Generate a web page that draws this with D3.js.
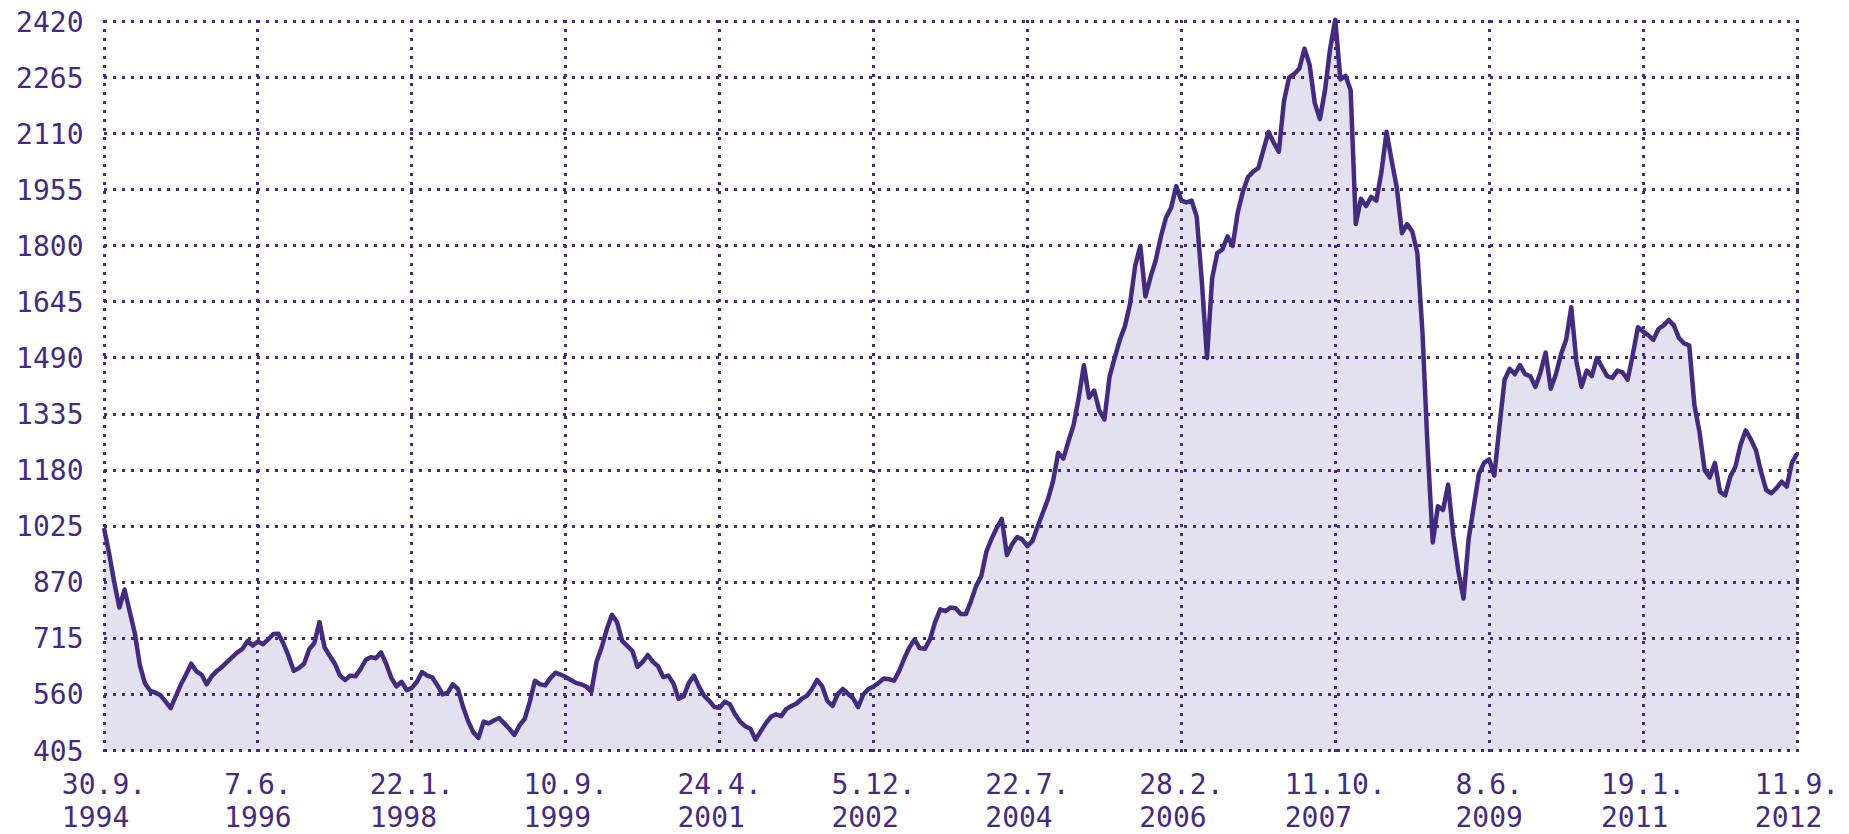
<!DOCTYPE html>
<html>
<head>
<meta charset="utf-8">
<script src="https://cdn.jsdelivr.net/npm/d3@7"></script>
<style>
    html, body { margin: 0; padding: 0; background: #fff; }
    svg text { font-family: "DejaVu Sans Mono", monospace; font-size: 28px; fill: #452b80; }
</style>
</head>
<body>
<svg id="chart"></svg>
<script>

// x axis labels, evenly spread over the trading days
var dayLabels = ["30.9.", "7.6.", "22.1.", "10.9.", "24.4.", "5.12.", "22.7.", "28.2.", "11.10.", "8.6.", "19.1.", "11.9."];
var yearLabels = ["1994", "1996", "1998", "1999", "2001", "2002", "2004", "2006", "2007", "2009", "2011", "2012"];

var yTicks = [405, 560, 715, 870, 1025, 1180, 1335, 1490, 1645, 1800, 1955, 2110, 2265, 2420];

// index level (evenly spaced samples)
var values = [
    1020, 950, 870, 800, 850, 790, 730, 640, 590, 570,
    565, 558, 540, 522, 555, 588, 615, 645, 624, 615,
    588, 610, 625, 636, 650, 663, 676, 686, 708, 695,
    706, 699, 712, 727, 728, 700, 665, 625, 633, 645,
    685, 702, 760, 690, 667, 645, 612, 600, 612, 610,
    630, 655, 663, 660, 676, 645, 606, 582, 595, 572,
    578, 595, 622, 612, 607, 585, 560, 565, 588, 575,
    525, 485, 455, 440, 485, 480, 488, 495, 480, 465,
    448, 475, 492, 540, 598, 588, 585, 605, 620, 615,
    608, 600, 592, 588, 582, 568, 650, 690, 740, 780,
    760, 708, 694, 680, 636, 650, 669, 650, 638, 608,
    612, 590, 548, 555, 592, 612, 581, 556, 542, 525,
    523, 540, 533, 505, 485, 472, 465, 435, 458, 480,
    498, 505, 500, 520, 528, 535, 548, 556, 575, 600,
    582, 542, 528, 560, 575, 562, 550, 525, 560, 575,
    582, 592, 604, 602, 598, 625, 660, 690, 712, 688,
    686, 712, 760, 795, 790, 800, 798, 782, 782, 818,
    860, 887, 955, 990, 1020, 1045, 945, 975, 995, 988,
    970, 985, 1025, 1062, 1100, 1150, 1228, 1212, 1260, 1305,
    1380, 1470, 1380, 1400, 1345, 1320, 1438, 1490, 1540, 1578,
    1640, 1745, 1800, 1660, 1714, 1760, 1825, 1878, 1905, 1965,
    1925, 1920, 1925, 1880, 1700, 1490, 1710, 1780, 1790, 1826,
    1800, 1893, 1950, 1990, 2005, 2015, 2065, 2115, 2085, 2060,
    2200, 2265, 2275, 2290, 2345, 2300, 2195, 2150, 2230, 2345,
    2425, 2260, 2270, 2230, 1860, 1930, 1910, 1935, 1925, 2004,
    2115, 2035, 1960, 1835, 1860, 1840, 1780, 1560, 1240, 980,
    1080, 1070, 1140, 1000, 900, 825, 990, 1080, 1170, 1200,
    1210, 1165, 1300, 1430, 1460, 1445, 1470, 1445, 1440, 1410,
    1450, 1505, 1405, 1445, 1500, 1540, 1630, 1480, 1410, 1455,
    1440, 1490, 1465, 1440, 1435, 1455, 1450, 1430, 1500, 1575,
    1563, 1553, 1540, 1570, 1580, 1595, 1580, 1545, 1530, 1525,
    1360, 1285, 1180, 1160, 1200, 1120, 1110, 1162, 1190, 1250,
    1290, 1265, 1235, 1175, 1125, 1116, 1130, 1148, 1134, 1200,
    1225
];

var chart = {
    width: 1849,
    height: 834,
    left: 104,
    right: 1797,
    top: 21.5,
    bottom: 750.5,
    color: "#452b80",
    fill: "#e3e0ef",
};

var svg = d3.select("#chart")
    .attr("width", chart.width)
    .attr("height", chart.height);

var x = d3.scaleLinear()
    .domain([0, values.length - 1])
    .range([chart.left, chart.right]);

var y = d3.scaleLinear()
    .domain([yTicks[0], yTicks[yTicks.length - 1]])
    .range([chart.bottom, chart.top]);

// tick i sits at an equal share of the series
var xTicks = dayLabels.map((d, i) => i * (values.length - 1) / (dayLabels.length - 1));

// snap to pixel centres so the 3px dots stay sharp
function px(v) { return Math.round(v - 0.5) + 0.5; }

// area under the curve
svg.append("path")
    .datum(values)
    .attr("fill", chart.fill)
    .attr("d", d3.area()
        .x((d, i) => x(i))
        .y0(y(yTicks[0]))
        .y1((d) => y(d)));

// dotted grid, border included
var grid = svg.append("g")
    .attr("stroke", chart.color)
    .attr("stroke-width", 3)
    .attr("stroke-dasharray", "3 6")
    .attr("shape-rendering", "crispEdges");

grid.selectAll("line.h")
    .data(yTicks)
    .enter().append("line")
        .attr("class", "h")
        .attr("x1", chart.left)
        .attr("x2", chart.right + 2)
        .attr("y1", (d) => px(y(d)))
        .attr("y2", (d) => px(y(d)));

grid.selectAll("line.v")
    .data(xTicks)
    .enter().append("line")
        .attr("class", "v")
        .attr("x1", (d) => px(x(d)))
        .attr("x2", (d) => px(x(d)))
        .attr("y1", chart.top - 1.5)
        .attr("y2", chart.bottom + 2);

// the index line
svg.append("path")
    .datum(values)
    .attr("fill", "none")
    .attr("stroke", chart.color)
    .attr("stroke-width", 4.5)
    .attr("stroke-linejoin", "round")
    .attr("d", d3.line()
        .x((d, i) => x(i))
        .y((d) => y(d)));

// y labels
svg.append("g")
    .selectAll("text")
    .data(yTicks)
    .enter().append("text")
        .attr("x", 83.5)
        .attr("y", (d) => y(d) + 10)
        .attr("text-anchor", "end")
        .text((d) => d);

// x labels: two lines, left aligned in a block centred on the tick
var xl = svg.append("g")
    .selectAll("g")
    .data(xTicks)
    .enter().append("g");

xl.each(function(d, i) {
    let g = d3.select(this);
    let t1 = g.append("text").attr("y", 794).text(dayLabels[i]);
    let t2 = g.append("text").attr("y", 827).text(yearLabels[i]);
    let w = Math.max(t1.node().getComputedTextLength(), t2.node().getComputedTextLength());
    let left = x(d) - w / 2;
    t1.attr("x", left);
    t2.attr("x", left);
});

</script>
</body>
</html>
